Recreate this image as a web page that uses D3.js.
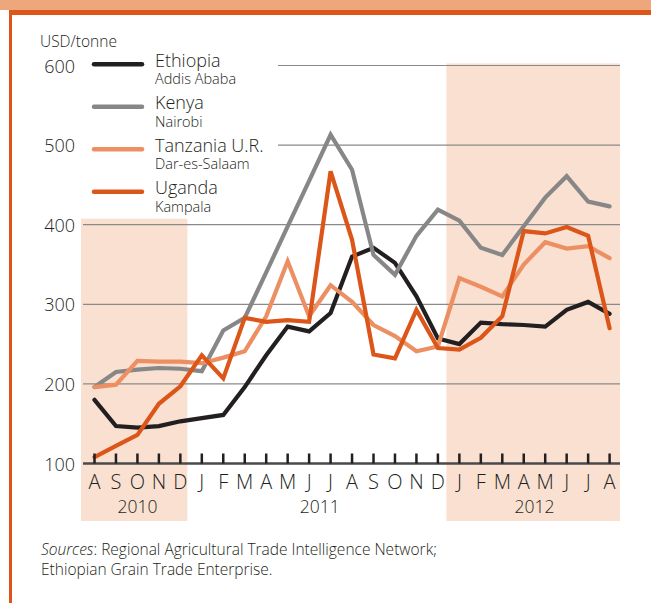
<!DOCTYPE html>
<html>
<head>
<meta charset="utf-8">
<script src="https://cdn.jsdelivr.net/npm/d3@7"></script>
<style>
  body { margin: 0; background: #fff; }
  svg { display: block; font-family: "Open Sans", sans-serif; font-weight: 350; }
</style>
</head>
<body>
<svg id="chart" width="651" height="603"></svg>
<script>
// Month labels, Aug 2010 .. Aug 2012
const months = ["A","S","O","N","D","J","F","M","A","M","J","J","A","S","O","N","D","J","F","M","A","M","J","J","A"];
const years = [
    { label: "2010", from: 0, to: 4, shaded: true },
    { label: "2011", from: 5, to: 16, shaded: false },
    { label: "2012", from: 17, to: 24, shaded: true }
];
const yTicks = [100, 200, 300, 400, 500, 600];

// Prices, USD/tonne
const ethiopia = [180, 147, 145, 147, 153, 157, 161, 196, 236, 272, 266, 289, 360, 371, 352, 310, 257, 250, 277, 275, 274, 272, 293, 303, 288];
const kenya    = [196, 215, 218, 220, 219, 216, 267, 283, 340, 398, 455, 513, 469, 362, 337, 386, 419, 405, 371, 362, 398, 434, 461, 429, 423];
const tanzania = [196, 199, 229, 228, 228, 226, 233, 241, 285, 354, 285, 324, 303, 274, 260, 241, 247, 333, 322, 310, 350, 378, 370, 373, 358];
const uganda   = [108, 122, 136, 175, 197, 236, 207, 283, 278, 280, 278, 467, 381, 237, 232, 293, 245, 243, 258, 285, 392, 389, 397, 386, 270];

const series = [
    { name: "Ethiopia", city: "Addis Ababa", values: ethiopia, color: "#231f20" },
    { name: "Kenya", city: "Nairobi", values: kenya, color: "#878787" },
    { name: "Tanzania U.R.", city: "Dar-es-Salaam", values: tanzania, color: "#ec8f63" },
    { name: "Uganda", city: "Kampala", values: uganda, color: "#dc561a" }
];

const svg = d3.select("#chart");
const axisLeft = 83, axisRight = 620;

const x = d3.scaleLinear().domain([0, months.length - 1]).range([94.5, 609.6]);
const y = d3.scaleLinear().domain([100, 600]).range([463.5, 65.5]);

// frame
svg.append("rect").attr("x", 0).attr("y", 0).attr("width", 651).attr("height", 10).attr("fill", "#eea67d");
svg.append("rect").attr("x", 9).attr("y", 10).attr("width", 642).attr("height", 5).attr("fill", "#dc561a");
svg.append("rect").attr("x", 9).attr("y", 10).attr("width", 3).attr("height", 593).attr("fill", "#dc561a");

// shaded years
const shadeTop = { "2010": y(400) - 6, "2012": y(600) - 2 };
const shadeLeft = d => d.from === 0 ? axisLeft - 2 : x(d.from) - 13;
const shadeRight = d => d.to === months.length - 1 ? axisRight : x(d.to) + 7;
svg.append("g")
    .selectAll("rect")
    .data(years.filter(d => d.shaded))
    .join("rect")
    .attr("x", shadeLeft)
    .attr("width", d => shadeRight(d) - shadeLeft(d))
    .attr("y", d => shadeTop[d.label])
    .attr("height", d => 521 - shadeTop[d.label])
    .attr("fill", "#f9e0d1");

// gridlines
svg.append("g")
    .selectAll("line")
    .data(yTicks.filter(v => v > 100))
    .join("line")
    .attr("x1", v => v >= 500 ? 278 : axisLeft)
    .attr("x2", axisRight)
    .attr("y1", v => y(v))
    .attr("y2", v => y(v))
    .attr("stroke", "#8a8a8a")
    .attr("stroke-width", 1.2);

// y labels
svg.append("g")
    .selectAll("text")
    .data(yTicks)
    .join("text")
    .attr("x", 75)
    .attr("y", v => y(v) + 7)
    .attr("text-anchor", "end")
    .attr("font-size", 18)
    .attr("fill", "#231f20")
    .text(v => v);

svg.append("text")
    .attr("x", 40).attr("y", 47)
    .attr("font-size", 15.5)
    .attr("fill", "#231f20")
    .text("USD/tonne");

// lines
const line = d3.line()
    .x((d, i) => x(i))
    .y(d => y(d));

svg.append("g")
    .selectAll("path")
    .data(series)
    .join("path")
    .attr("d", d => line(d.values))
    .attr("fill", "none")
    .attr("stroke", d => d.color)
    .attr("stroke-width", 4.2)
    .attr("stroke-linejoin", "miter")
    .attr("stroke-miterlimit", 3)
    .attr("stroke-linecap", "round");

// x axis
svg.append("line")
    .attr("x1", axisLeft).attr("x2", axisRight)
    .attr("y1", y(100)).attr("y2", y(100))
    .attr("stroke", "#4a4a4a")
    .attr("stroke-width", 2.5);

svg.append("g")
    .selectAll("line")
    .data(months)
    .join("line")
    .attr("x1", (d, i) => x(i)).attr("x2", (d, i) => x(i))
    .attr("y1", y(100)).attr("y2", y(100) - 10)
    .attr("stroke", "#231f20")
    .attr("stroke-width", 2.5);

svg.append("g")
    .selectAll("text")
    .data(months)
    .join("text")
    .attr("x", (d, i) => x(i))
    .attr("y", 489)
    .attr("text-anchor", "middle")
    .attr("font-size", 20)
    .attr("fill", "#231f20")
    .text(d => d);

svg.append("g")
    .selectAll("text")
    .data(years)
    .join("text")
    .attr("x", d => (x(d.from) + x(d.to)) / 2)
    .attr("y", 513)
    .attr("text-anchor", "middle")
    .attr("font-size", 17.5)
    .attr("fill", "#231f20")
    .text(d => d.label);

// legend
const legend = svg.append("g")
    .selectAll("g")
    .data(series)
    .join("g")
    .attr("transform", (d, i) => `translate(0, ${66.7 + i * 42.5})`);

legend.append("line")
    .attr("x1", 94).attr("x2", 142)
    .attr("y1", -2.5).attr("y2", -2.5)
    .attr("stroke", d => d.color)
    .attr("stroke-width", 4.5)
    .attr("stroke-linecap", "round");

legend.append("text")
    .attr("x", 155)
    .attr("font-size", 18)
    .attr("fill", "#231f20")
    .text(d => d.name);

legend.append("text")
    .attr("x", 155).attr("y", 17.5)
    .attr("font-size", 14.5)
    .attr("fill", "#231f20")
    .text(d => d.city);

// sources
const src = svg.append("text")
    .attr("x", 41).attr("y", 555)
    .attr("font-size", 15.5)
    .attr("fill", "#231f20");
src.append("tspan").attr("font-style", "italic").text("Sources");
src.append("tspan").text(": Regional Agricultural Trade Intelligence Network;");
svg.append("text")
    .attr("x", 41).attr("y", 575)
    .attr("font-size", 15.5)
    .attr("fill", "#231f20")
    .text("Ethiopian Grain Trade Enterprise.");
</script>
</body>
</html>
